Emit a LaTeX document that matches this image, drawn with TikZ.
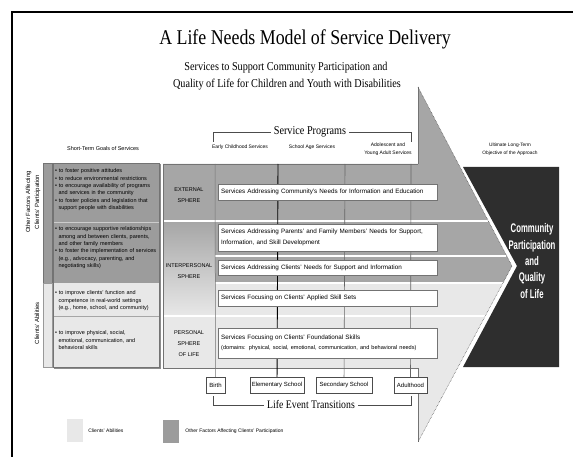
\documentclass[tikz,border=0pt]{standalone}
\usepackage{fontspec}
\setmainfont{Liberation Serif}
\setsansfont{Liberation Sans}
\newfontfamily\headserif[FakeStretch=0.85]{Liberation Serif}
\newfontfamily\narrowbold[FakeStretch=0.62]{Liberation Sans}
\usepackage{xcolor}
\usepackage{tikz}
\usetikzlibrary{positioning,shadows}

\definecolor{midgray}{gray}{0.65}
\definecolor{factorgray}{gray}{0.61}
\definecolor{abilitygray}{gray}{0.91}
\definecolor{objgray}{gray}{0.18}
\definecolor{edgegray}{gray}{0.45}

\newcommand{\gpt}{\textbullet\ }
\newcommand{\gcont}{\hspace*{3.3pt}}

\pgfdeclarelayer{arrowfill}
\pgfdeclarelayer{guides}
\pgfsetlayers{arrowfill,guides,main}

\begin{document}
\begin{tikzpicture}[x=1pt,y=-1pt,
  every node/.style={inner sep=0pt}
]

\tikzstyle{svcbox}=[draw=edgegray,fill=white,anchor=west,text width=213pt,inner xsep=3pt,
  align=left,font=\sffamily\fontsize{6.3}{10.5}\selectfont,
  drop shadow={shadow xshift=0.8pt,shadow yshift=-0.8pt,fill=black!45}]
\tikzstyle{lifebox}=[draw=black!70,fill=white,minimum height=16pt,
  font=\sffamily\fontsize{6}{7}\selectfont,
  drop shadow={shadow xshift=0.8pt,shadow yshift=-0.8pt,fill=black!60}]
\tikzset{goal text/.style={anchor=north west,text width=104pt,align=left,
  font=\sffamily\fontsize{5.5}{7.4}\selectfont}}
\tikzset{sphere label/.style={align=center,font=\sffamily\fontsize{5.5}{11}\selectfont}}
\tikzset{small label/.style={align=center,font=\sffamily\fontsize{5}{8}\selectfont}}
\tikzset{key square/.style={minimum width=16pt,minimum height=23pt}}

\useasboundingbox (0,0) rectangle (573,457);

% frame
\draw[line width=2pt] (12,457) -- (12,12.5) -- (573,12.5);

% titles
\node[font=\headserif\fontsize{21}{24}\selectfont] (title) at (305,39) {A Life Needs Model of Service Delivery};
\node[font=\headserif\fontsize{12}{14}\selectfont] (subA) at (286,68) {Services to Support Community Participation and};
\node[font=\headserif\fontsize{12}{14}\selectfont] (subB) at (287,85) {Quality of Life for Children and Youth with Disabilities};

% big arrow
\coordinate (apex) at (418,87);
\coordinate (tip) at (512,266);
\coordinate (foot) at (418,442);
\begin{pgfonlayer}{arrowfill}
\fill[midgray] (163,164) -- (418,164) -- (apex) -- (tip) -- (503,283) -- (163,283) -- cycle;
\fill[abilitygray] (163,283) -- (503,283) -- (foot) -- (418,368) -- (163,368) -- cycle;
\shade[top color=midgray,bottom color=abilitygray] (163,221) rectangle (215,316);
\draw[white,line width=1.2pt] (163,221) -- (488,221);
\draw[white,line width=1.2pt] (215,256) -- (506,256);
\draw[white,line width=1.2pt] (215,283) -- (503,283);
\draw[white,line width=1.2pt] (163,316) -- (485,316);
\draw[edgegray,line width=0.6pt] (418,164) -- (163,164) -- (163,368) -- (418,368);
\draw[edgegray,line width=0.5pt] (apex) -- (418,164) (418,368) -- (foot);
\draw[black!75,line width=0.5pt,densely dotted] (apex) -- (tip) -- (foot);
\end{pgfonlayer}

% objective
\fill[objgray] (463,167) -- (559,167) -- (559,367) -- (463,367) -- (517,266) -- cycle;
\node[text=white,align=center,font=\narrowbold\bfseries\fontsize{12.5}{16.3}\selectfont] (objective) at (532,261)
  {Community\\Participation\\and\\Quality\\of Life};
\node[small label,font=\sffamily\fontsize{4.8}{8}\selectfont] (objHead) at (510,149) {Ultimate Long-Term\\Objective of the Approach};

% service programs
\node[fill=white,inner xsep=3pt,font=\headserif\fontsize{12}{14}\selectfont] (progTitle) at (310,132) {Service Programs};
\coordinate (progL) at (213,142);
\coordinate (progR) at (411,142);
\node[small label] (progEarly) at (240,147) {Early Childhood Services};
\node[small label] (progSchool) at (312,147) {School Age Services};
\node[small label] (progAdol) at (388,149) {Adolescent and\\Young Adult Services};

% spheres
\node[sphere label] (sphExt) at (189,195) {EXTERNAL\\SPHERE};
\node[sphere label] (sphInt) at (189,271) {INTERPERSONAL\\SPHERE};
\node[sphere label] (sphPer) at (189,344) {PERSONAL\\SPHERE\\OF LIFE};

% services
\node[svcbox,minimum height=16pt] (svcCommunity) at (218,192)
  {Services Addressing Community's Needs for Information and Education};
\node[svcbox,minimum height=27pt] (svcFamily) at (218,237.5)
  {Services Addressing Parents' and Family Members' Needs for Support,\\Information, and Skill Development};
\node[svcbox,minimum height=15pt] (svcSupport) at (218,267.5)
  {Services Addressing Clients' Needs for Support and Information};
\node[svcbox,minimum height=16pt] (svcApplied) at (218,298)
  {Services Focusing on Clients' Applied Skill Sets};
\node[svcbox,minimum height=30pt] (svcFound) at (218,343)
  {Services Focusing on Clients' Foundational Skills\\{\fontsize{5.6}{10.5}\selectfont(domains: physical, social, emotional, communication, and behavioral needs)}};

% life events
\node[lifebox,minimum width=19pt] (trBirth) at (215.5,385) {Birth};
\node[lifebox,minimum width=54pt] (trElem) at (277,385) {Elementary School};
\node[lifebox,minimum width=56pt] (trSec) at (344,385) {Secondary School};
\node[lifebox,minimum width=33pt] (trAdult) at (410.5,385) {Adulthood};
\node[fill=white,inner xsep=3pt,font=\headserif\fontsize{11.5}{14}\selectfont] (lifeTitle) at (311,405) {Life Event Transitions};
\coordinate (lifeL) at (213,396);
\coordinate (lifeR) at (411,396);

\coordinate (colA) at (215,164);
\coordinate (colB) at (278,164);
\coordinate (colC) at (345,164);
\coordinate (colD) at (411,164);

\begin{pgfonlayer}{guides}
\draw[edgegray,line width=0.5pt] (colA) -- (trBirth);
\draw[black,line width=0.9pt] (colB) -- (trElem);
\draw[black!60,line width=0.6pt] (colC) -- (trSec);
\draw[black!60,line width=0.6pt] (colD) -- (trAdult);
\end{pgfonlayer}
\draw[black!70,line width=0.5pt] (progL) |- (progTitle.west);
\draw[black!70,line width=0.5pt] (progR) |- (progTitle.east);
\draw[black!70,line width=0.5pt] (lifeL) |- (lifeTitle.west);
\draw[black!70,line width=0.5pt] (lifeR) |- (lifeTitle.east);

% short-term goals
\node[font=\sffamily\fontsize{5.5}{6}\selectfont] (goalsHead) at (103,149) {Short-Term Goals of Services};
\draw[black!55,fill=factorgray] (43,163) rectangle (52,283);
\draw[black!40,fill=abilitygray] (43,283) rectangle (52,367);
\fill[factorgray] (53,163) rectangle (159,283);
\fill[abilitygray] (53,283) rectangle (159,367);
\draw[black!20,line width=0.8pt] (53,222) -- (159,222);
\draw[black!35,line width=0.6pt] (53,316) -- (159,316);
\draw[black!55,line width=0.6pt] (53,163) rectangle (159,367);
\draw[black!45,line width=1pt] (160,164) -- (160,368) -- (54,368);

\node[goal text] (goalsExt) at (55,168.5)
  {\gpt to foster positive attitudes\\
   \gpt to reduce environmental restrictions\\
   \gpt to encourage availability of programs\\
   \gcont and services in the community\\
   \gpt to foster policies and legislation that\\
   \gcont support people with disabilities};
\node[goal text] (goalsFam) at (55,226.5)
  {\gpt to encourage supportive relationships\\
   \gcont among and between clients, parents,\\
   \gcont and other family members\\
   \gpt to foster the implementation of services\\
   \gcont (e.g., advocacy, parenting, and\\
   \gcont negotiating skills)};
\node[goal text] (goalsApplied) at (55,290.5)
  {\gpt to improve clients' function and\\
   \gcont competence in real-world settings\\
   \gcont (e.g., home, school, and community)};
\node[goal text] (goalsFound) at (55,330.5)
  {\gpt to improve physical, social,\\
   \gcont emotional, communication, and\\
   \gcont behavioral skills};

\node[rotate=90,align=center,font=\sffamily\fontsize{6}{9}\selectfont] (factorLabel) at (33,202)
  {Other Factors Affecting\\Clients' Participation};
\node[rotate=90,font=\sffamily\fontsize{6}{9}\selectfont] (abilityLabel) at (37,323) {Clients' Abilities};

% key
\node[key square,fill=abilitygray] (keyAbility) at (75,430.5) {};
\node[right=5pt of keyAbility,font=\sffamily\fontsize{5}{6}\selectfont] (keyAbilityText) {Clients' Abilities};
\node[key square,fill=factorgray] (keyFactor) at (171,431.5) {};
\node[right=6pt of keyFactor,font=\sffamily\fontsize{5}{6}\selectfont] (keyFactorText) {Other Factors Affecting Clients' Participation};

\end{tikzpicture}
\end{document}
